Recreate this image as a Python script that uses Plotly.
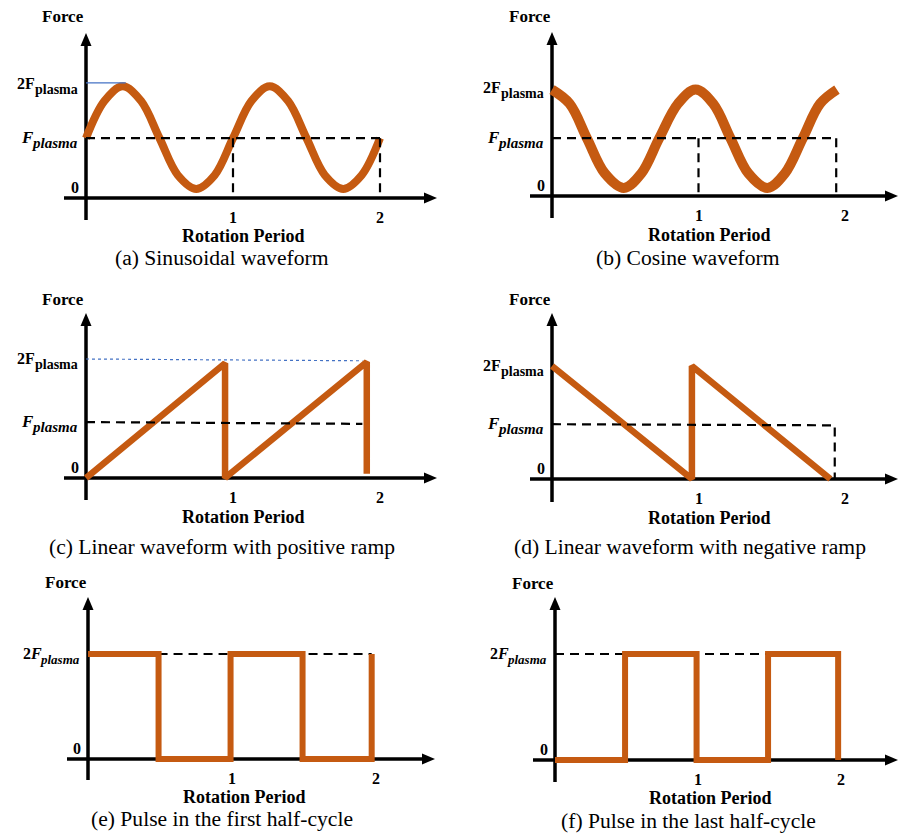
import plotly.graph_objects as go

W, H = 899, 835
SERIF = "Liberation Serif, Times New Roman, serif"
ORANGE = "#C55A11"
BLUE = "#4472C4"
BLACK = "#000000"

# ---------------- waveform data (x in rotation periods, y in units of F_plasma) -------------
# (a) sinusoidal waveform, sampled every eighth of a period
sin_x = [0.0, 0.125, 0.25, 0.375, 0.5, 0.625, 0.75, 0.875, 1.0,
         1.125, 1.25, 1.375, 1.5, 1.625, 1.75, 1.875, 2.0]
sin_y = [1.05, 1.70, 1.96, 1.70, 1.05, 0.40, 0.16, 0.40, 1.05,
         1.70, 1.96, 1.70, 1.05, 0.40, 0.16, 0.40, 1.05]
sin_level = 1.05
sin_guide_x = [0.0, 0.27]
sin_guide_y = [2.02, 2.02]
sin_marks = [1.0, 2.0]

# (b) cosine waveform, sampled every eighth of a period
cos_x = [0.0, 0.12, 0.24, 0.36, 0.49, 0.61, 0.73, 0.86, 0.98,
         1.10, 1.22, 1.34, 1.47, 1.59, 1.71, 1.83, 1.945]
cos_y = [1.97, 1.71, 1.06, 0.42, 0.15, 0.42, 1.06, 1.71, 1.97,
         1.71, 1.06, 0.42, 0.15, 0.42, 1.06, 1.71, 1.97]
cos_level = 1.07
cos_marks = [1.0, 1.94]

# (c) linear, positive ramp
rup_x = [0.0, 0.946, 0.946, 0.96, 1.91, 1.91]
rup_y = [0.0, 1.93, 0.0, 0.03, 1.95, 0.07]
rup_level_x = [0.0, 1.88]
rup_level_y = [0.94, 0.91]
rup_guide_x = [0.0, 1.88]
rup_guide_y = [2.0, 1.97]

# (d) linear, negative ramp
rdn_x = [0.0, 0.95, 0.955, 0.955, 1.90]
rdn_y = [2.0, 0.0, 0.0, 2.0, 0.0]
rdn_level_x = [0.0, 1.93, 1.93]
rdn_level_y = [0.97, 0.95, 0.0]

# (e) pulse in the first half-cycle
pfirst_x = [0.0, 0.49, 0.49, 0.99, 0.99, 1.49, 1.49, 1.97, 1.97]
pfirst_y = [2.0, 2.0, 0.0, 0.0, 2.0, 2.0, 0.0, 0.0, 2.0]
pfirst_level_x = [0.49, 1.97]

# (f) pulse in the last half-cycle
plast_x = [0.0, 0.49, 0.49, 0.99, 0.99, 1.49, 1.49, 1.98, 1.98]
plast_y = [0.0, 0.0, 2.0, 2.0, 0.0, 0.0, 2.0, 2.0, 0.0]
plast_level_x = [0.0, 1.49]

tick_vals = [1, 2]
tick_text = ["1", "2"]

captions = [
    "(a) Sinusoidal waveform",
    "(b) Cosine waveform",
    "(c) Linear waveform with positive ramp",
    "(d) Linear waveform with negative ramp",
    "(e) Pulse in the first half-cycle",
    "(f) Pulse in the last half-cycle",
]

# level label: (main text, main size, subscript text, subscript size, subscript width px)
LBL_2F = ("2F", 16, "plasma", 14, 43)
LBL_F = ("<i>F</i>", 17, "<i>plasma</i>", 15, 44)
LBL_2F_MATH = ("2<i>F</i>", 16, "<i>plasma</i>", 13, 38)

# ---------------- panel geometry (pixels) ----------------
# ox, oy: pixel position of the origin; sx: px per period; sy: px per F_plasma
panels = [
    dict(ox=86, oy=198, sx=147, sy=57, ybot=220, ytop=33, xl=64, xr=437,
         force=(63, 17), rp=(243, 236), cap=(222, 258),
         levels=[(sin_level, LBL_F), (2.0, LBL_2F)]),
    dict(ox=552, oy=196, sx=146.5, sy=54, ybot=218, ytop=32, xl=530, xr=898,
         force=(530, 17), rp=(709, 235), cap=(688, 258),
         levels=[(cos_level, LBL_F), (2.0, LBL_2F)]),
    dict(ox=86, oy=478, sx=147, sy=59.5, ybot=500, ytop=313, xl=64, xr=437,
         force=(63, 300), rp=(243, 517), cap=(222, 547),
         levels=[(rup_level_y[0], LBL_F), (2.0, LBL_2F)]),
    dict(ox=552, oy=479, sx=146.5, sy=56.5, ybot=502, ytop=313, xl=530, xr=898,
         force=(530, 300), rp=(709, 518), cap=(690, 547),
         levels=[(rdn_level_y[0], LBL_F), (2.0, LBL_2F)]),
    dict(ox=88, oy=759, sx=144, sy=52.5, ybot=780, ytop=597, xl=67, xr=435,
         force=(66, 582), rp=(244, 797), cap=(222, 819),
         levels=[(2.0, LBL_2F_MATH)]),
    dict(ox=555, oy=760, sx=143, sy=53, ybot=782, ytop=597, xl=533, xr=898,
         force=(533, 583), rp=(710, 798), cap=(688, 821),
         levels=[(2.0, LBL_2F_MATH)]),
]


def paper(px, py):
    return px / W, 1 - py / H


def font(size, bold=True):
    return dict(family=SERIF, size=size, color=BLACK, weight="bold" if bold else "normal")


fig = go.Figure()
layout = dict(
    width=W, height=H, autosize=False,
    margin=dict(l=0, r=0, t=0, b=0, pad=0),
    paper_bgcolor="white", plot_bgcolor="rgba(0,0,0,0)",
    showlegend=False,
)
shapes = []
annotations = []

for i, p in enumerate(panels, start=1):
    sfx = "" if i == 1 else str(i)
    xa, ya = "x" + sfx, "y" + sfx
    layout["xaxis" + sfx] = dict(
        domain=[0, 1], anchor=ya, visible=False, fixedrange=True,
        range=[-p["ox"] / p["sx"], (W - p["ox"]) / p["sx"]])
    layout["yaxis" + sfx] = dict(
        domain=[0, 1], anchor=xa, visible=False, fixedrange=True,
        range=[(p["oy"] - H) / p["sy"], p["oy"] / p["sy"]])

    # axis lines
    x0, y0 = paper(p["ox"], p["ybot"])
    x1, y1 = paper(p["ox"], p["ytop"] + 8)
    shapes.append(dict(type="line", xref="paper", yref="paper", x0=x0, y0=y0, x1=x1, y1=y1,
                       line=dict(color=BLACK, width=3.5), layer="below"))
    x0, y0 = paper(p["xl"], p["oy"])
    x1, y1 = paper(p["xr"] - 8, p["oy"])
    shapes.append(dict(type="line", xref="paper", yref="paper", x0=x0, y0=y0, x1=x1, y1=y1,
                       line=dict(color=BLACK, width=3.5), layer="below"))
    # arrow heads
    ax_, ay_ = paper(p["ox"], p["ytop"])
    shapes.append(dict(type="path", xref="paper", yref="paper", xsizemode="pixel",
                       ysizemode="pixel", xanchor=ax_, yanchor=ay_,
                       path="M0,0 L-5.5,-13 L5.5,-13 Z", fillcolor=BLACK,
                       line=dict(width=0), layer="below"))
    ax_, ay_ = paper(p["xr"], p["oy"])
    shapes.append(dict(type="path", xref="paper", yref="paper", xsizemode="pixel",
                       ysizemode="pixel", xanchor=ax_, yanchor=ay_,
                       path="M0,0 L-13,-5.5 L-13,5.5 Z", fillcolor=BLACK,
                       line=dict(width=0), layer="below"))

    # texts
    fx, fy = paper(*p["force"])
    annotations.append(dict(x=fx, y=fy, xref="paper", yref="paper", text="Force",
                            showarrow=False, xanchor="center", yanchor="middle",
                            borderpad=0, font=font(17)))
    rx, ry = paper(*p["rp"])
    annotations.append(dict(x=rx, y=ry, xref="paper", yref="paper",
                            text="Rotation Period", showarrow=False,
                            xanchor="center", yanchor="middle",
                            borderpad=0, font=font(18)))
    cx, cy = paper(*p["cap"])
    annotations.append(dict(x=cx, y=cy, xref="paper", yref="paper", text=captions[i - 1],
                            showarrow=False, xanchor="center", yanchor="middle",
                            borderpad=0, font=font(21.6, bold=False)))
    # tick labels along rotation period
    for tv, tt in zip(tick_vals, tick_text):
        annotations.append(dict(x=tv, y=0, xref=xa, yref=ya, text=tt,
                                showarrow=False, xanchor="center", yanchor="top",
                                yshift=-10, borderpad=0, font=font(16)))
    # force levels
    annotations.append(dict(x=0, y=0, xref=xa, yref=ya, text="0", showarrow=False,
                            xanchor="center", yanchor="middle", xshift=-11, yshift=11,
                            borderpad=0, font=font(16)))
    for lv, (main, msize, sub, ssize, swidth) in p["levels"]:
        annotations.append(dict(x=0, y=lv, xref=xa, yref=ya, text=sub, showarrow=False,
                                xanchor="right", yanchor="middle", xshift=-7, yshift=-5,
                                borderpad=0, font=font(ssize)))
        annotations.append(dict(x=0, y=lv, xref=xa, yref=ya, text=main, showarrow=False,
                                xanchor="right", yanchor="middle", xshift=-7 - swidth,
                                yshift=1, borderpad=0, font=font(msize)))


def curve(i, x, y, width, shape="linear", color=ORANGE, dash="solid"):
    sfx = "" if i == 1 else str(i)
    line = dict(color=color, width=width, shape=shape, dash=dash)
    if shape == "spline":
        line["smoothing"] = 1.0
    fig.add_trace(go.Scatter(x=x, y=y, xaxis="x" + sfx, yaxis="y" + sfx, mode="lines",
                             line=line, hoverinfo="skip", cliponaxis=False))


DASH = "9px,6px"

# (a)
curve(1, sin_x, sin_y, 8, shape="spline")
curve(1, [0, 2, None, sin_marks[0], sin_marks[0], None, sin_marks[1], sin_marks[1]],
      [sin_level, sin_level, None, sin_level, 0, None, sin_level, 0], 2.2, color=BLACK, dash=DASH)
curve(1, sin_guide_x, sin_guide_y, 1.2, color=BLUE)

# (b)
curve(2, cos_x, cos_y, 10, shape="spline")
curve(2, [0, cos_marks[1], None, cos_marks[0], cos_marks[0], None, cos_marks[1], cos_marks[1]],
      [cos_level, cos_level, None, cos_level, 0, None, cos_level, 0], 2.2, color=BLACK, dash=DASH)

# (c)
curve(3, rup_guide_x, rup_guide_y, 1.2, color=BLUE, dash="3px,3px")
curve(3, rup_x, rup_y, 6.5)
curve(3, rup_level_x, rup_level_y, 2.2, color=BLACK, dash=DASH)

# (d)
curve(4, rdn_x, rdn_y, 6.5)
curve(4, rdn_level_x, rdn_level_y, 2.2, color=BLACK, dash=DASH)

# (e)
curve(5, pfirst_level_x, [2.0, 2.0], 2.2, color=BLACK, dash=DASH)
curve(5, pfirst_x, pfirst_y, 6)

# (f)
curve(6, plast_level_x, [2.0, 2.0], 2.2, color=BLACK, dash=DASH)
curve(6, plast_x, plast_y, 6)

layout["shapes"] = shapes
layout["annotations"] = annotations
fig.update_layout(**layout)
fig.write_html("out.html")
